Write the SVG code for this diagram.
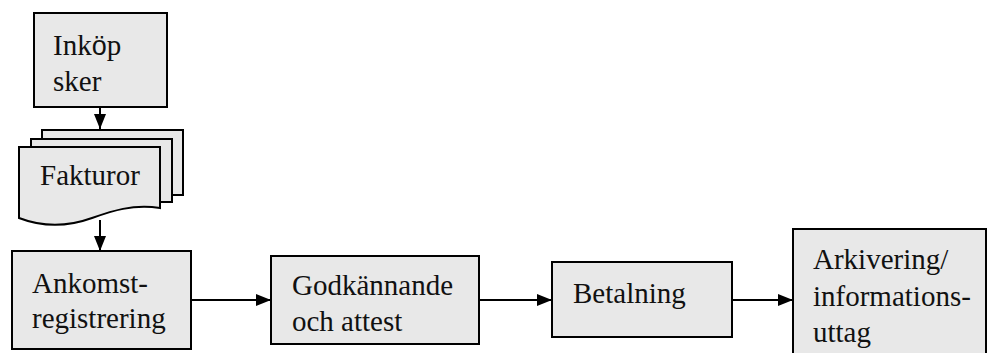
<svg xmlns="http://www.w3.org/2000/svg" width="990" height="363" viewBox="0 0 990 363">
<style>
.box{fill:#e8e8e8;stroke:#000;stroke-width:2}
.c{stroke:#000;stroke-width:2;fill:none}
</style>
<defs>
<marker id="ah" markerWidth="15" markerHeight="12" refX="15" refY="6" orient="auto" markerUnits="userSpaceOnUse" viewBox="0 0 15 12">
<path d="M0,0 L15,6 L0,12 Z" fill="#000"/>
</marker>
</defs>
<rect width="990" height="363" fill="#fff"/>
<g font-family="Liberation Serif, Tinos, Noto Serif, DejaVu Serif, serif" font-size="29" fill="#111">
<g id="inkop">
<rect class="box" x="34" y="13" width="133" height="94"/>
<text x="53" y="55">Ink<tspan font-family="Liberation Sans, Arial, sans-serif" font-size="27">ö</tspan>p</text>
<text x="53" y="91">sker</text>
</g>
<g id="fakturor">
<rect class="box" x="42" y="130" width="141" height="65"/>
<rect class="box" x="31" y="139" width="141" height="63"/>
<path class="box" d="M19,147 H160 V208 C132,204 112,211 92,218 C70,226 45,228 19,218 Z"/>
<text x="40" y="185">Fakturor</text>
</g>
<g id="ankomst">
<rect class="box" x="12" y="251" width="179" height="98"/>
<text x="32" y="293">Ankomst-</text>
<text x="32" y="328">registrering</text>
</g>
<g id="godkannande">
<rect class="box" x="271" y="256" width="208" height="88"/>
<text x="292" y="295">Godkännande</text>
<text x="292" y="331">och attest</text>
</g>
<g id="betalning">
<rect class="box" x="552" y="262" width="180" height="75"/>
<text x="573" y="303">Betalning</text>
</g>
<g id="arkivering">
<rect x="793" y="229" width="193" height="124" fill="#e8e8e8"/>
<path class="c" d="M793,353 V229 H986 V353"/>
<text x="813" y="269">Arkivering/</text>
<text x="813" y="306">informations-</text>
<text x="813" y="342">uttag</text>
</g>
</g>
<g id="connectors">
<line class="c" x1="100" y1="107" x2="100" y2="129" marker-end="url(#ah)"/>
<line class="c" x1="100" y1="220" x2="100" y2="251" marker-end="url(#ah)"/>
<line class="c" x1="191" y1="300" x2="271" y2="300" marker-end="url(#ah)"/>
<line class="c" x1="479" y1="300" x2="552" y2="300" marker-end="url(#ah)"/>
<line class="c" x1="732" y1="300" x2="793" y2="300" marker-end="url(#ah)"/>
</g>
</svg>
